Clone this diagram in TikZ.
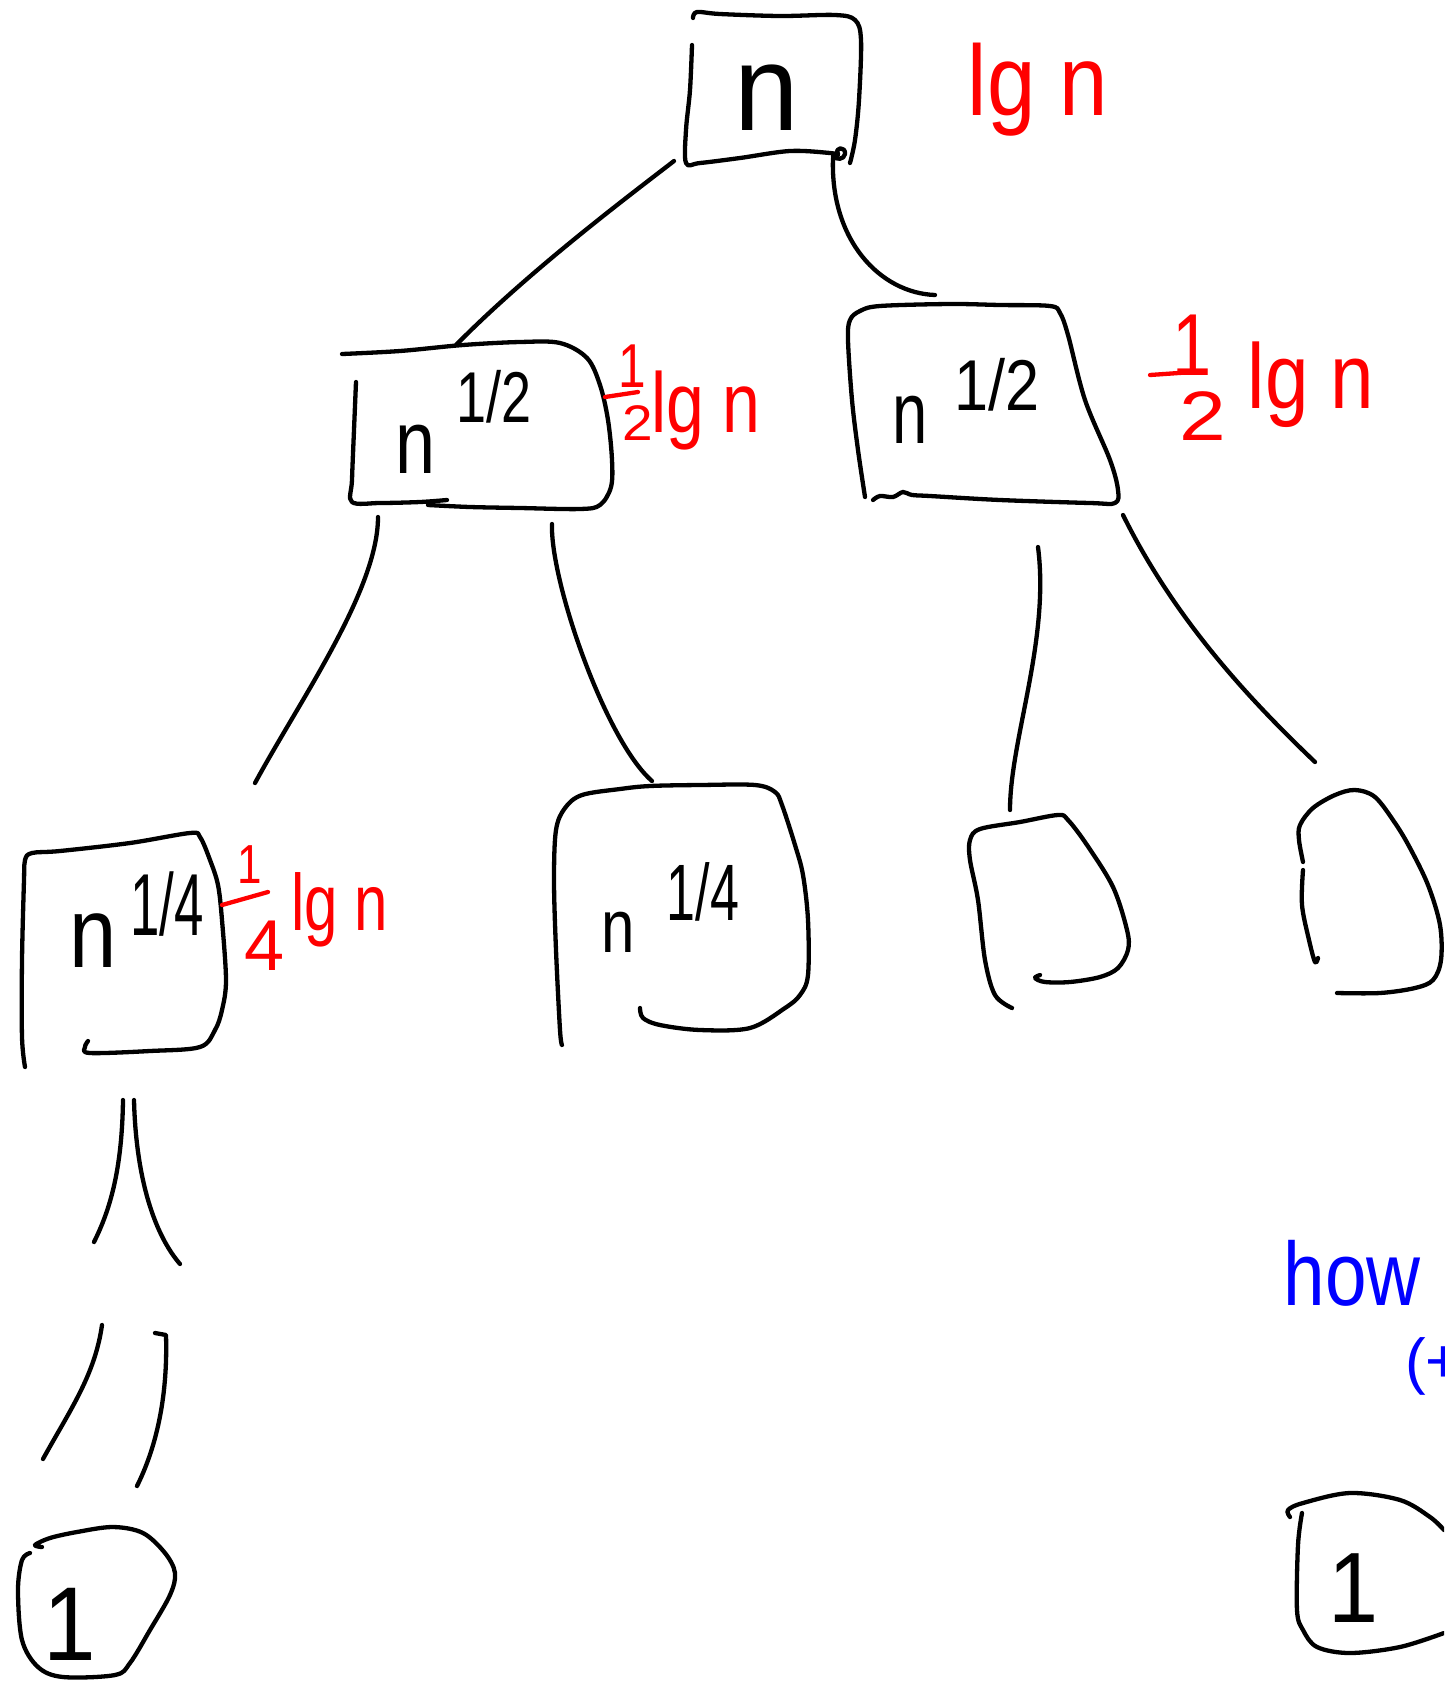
\documentclass[tikz,border=0pt]{standalone}
\usepackage{fontspec}
\setmainfont{Liberation Sans}
\definecolor{inkred}{RGB}{255,0,0}
\definecolor{inkblue}{RGB}{0,0,255}
% handwritten-style label: horizontal squeeze, font size, text
\newcommand\hand[3]{\scalebox{#1}[1]{\fontsize{#2pt}{#2pt}\selectfont #3}}
\begin{document}
\begin{tikzpicture}[x=1pt,y=-1pt,
  ink/.style={line width=4.3pt,line cap=round,line join=round},
  redink/.style={ink,draw=inkred},
  box/.style={ink,smooth,tension=0.55},
  lbl/.style={inner sep=0pt,anchor=base},
  redlbl/.style={lbl,text=inkred},
  bluelbl/.style={lbl,text=inkblue}]
\useasboundingbox (0,0) rectangle (1444,1682);
\fill[white] (0,0) rectangle (1444,1682);
\clip (0,0) rectangle (1444,1682);

% ---------- root: n ----------
\draw[box] plot coordinates {(693,18) (697,12) (720,14) (780,16) (835,15) (855,20) (861,40) (859,100) (855,140) (850,163)};
\draw[box] plot coordinates {(692,45) (690,90) (686,130) (686,163) (700,163) (740,158) (790,151) (830,153) (838,155)};
\draw[ink] (838,154) .. controls (834,147) and (846,146) .. (845,154) .. controls (844,160) and (836,160) .. (833,156);
\node[lbl] (nroot) at (767,130) {\hand{0.95}{122}{n}};
\node[redlbl] (lgroot) at (1038,115) {\hand{0.87}{100}{lg n}};

% ---------- left child: n^{1/2} ----------
\draw[box] plot coordinates {(342,354) (400,351) (463,345) (520,342) (560,343) (587,358) (600,385) (608,420) (612,460) (611,487) (600,505) (580,509) (520,508) (470,507) (428,505)};
\draw[box] plot coordinates {(356,382) (354,430) (352,480) (352,502) (380,503) (420,502) (447,500)};
\node[lbl] (nL) at (416,473) {\hand{0.8}{90}{n}};
\node[lbl] (supL) at (494,422) {\hand{0.75}{72}{1/2}};
\node[redlbl] (numL) at (632,387) {\hand{0.8}{62}{1}};
\draw[redink] (605,397) -- (638,392);
\node[redlbl] (denL) at (638,440) {\hand{1.1}{50}{2}};
\node[redlbl] (lgL) at (706,432) {\hand{0.8}{85}{lg n}};

% ---------- right child: n^{1/2} ----------
\draw[box] plot coordinates {(865,497) (858,450) (852,400) (848,340) (850,320) (860,311) (880,306) (950,304) (1000,305) (1050,306) (1060,313) (1068,335) (1085,400) (1110,460) (1118,490) (1115,503) (1090,503) (1000,500) (930,496) (912,495) (903,492) (893,497) (880,496) (873,500)};
\node[lbl] (nR) at (910,443) {\hand{0.72}{88}{n}};
\node[lbl] (supR) at (997,410) {\hand{0.85}{72}{1/2}};
\node[redlbl] (numR) at (1192,375) {\hand{0.8}{88}{1}};
\draw[redink] (1150,375) -- (1193,372);
\node[redlbl] (denR) at (1203,440) {\hand{1.2}{70}{2}};
\node[redlbl] (lgR) at (1311,408) {\hand{0.85}{92}{lg n}};

% ---------- third level ----------
% n^{1/4} (left)
\draw[box] plot coordinates {(25,1067) (22,1037) (22,960) (24,880) (25,860) (32,853) (60,851) (130,843) (190,833) (200,837) (210,860) (218,885) (222,920) (226,980) (222,1010) (215,1030) (200,1047) (150,1051) (90,1053) (85,1047) (88,1041)};
\node[lbl] (nA) at (93,967) {\hand{0.85}{100}{n}};
\node[lbl] (supA) at (167,935) {\hand{0.6}{88}{1/4}};
\node[redlbl] (numA) at (250,883) {\hand{0.8}{55}{1}};
\draw[redink] (222,905) -- (268,892);
\node[redlbl] (denA) at (265,970) {\hand{1}{72}{4}};
\node[redlbl] (lgA) at (340,930) {\hand{0.75}{80}{lg n}};
% n^{1/4} (right)
\draw[box] plot coordinates {(562,1045) (560,1030) (556,950) (554,880) (556,830) (565,808) (582,795) (620,789) (650,786) (700,785) (755,785) (775,792) (782,805) (795,845) (803,875) (808,920) (808,975) (800,995) (785,1008) (750,1028) (700,1030) (660,1025) (643,1018) (640,1008)};
\node[lbl] (nB) at (618,952) {\hand{0.8}{75}{n}};
\node[lbl] (supB) at (703,920) {\hand{0.65}{80}{1/4}};
% empty boxes
\draw[box] plot coordinates {(1012,1008) (995,995) (985,960) (978,900) (970,860) (970,840) (980,829) (1020,822) (1058,815) (1068,820) (1087,845) (1113,887) (1127,930) (1128,950) (1118,968) (1100,977) (1070,982) (1045,982) (1035,978) (1040,975)};
\draw[box] plot coordinates {(1303,862) (1299,840) (1300,825) (1313,808) (1335,795) (1355,790) (1375,797) (1395,823) (1410,848) (1428,885) (1440,925) (1441,960) (1433,980) (1415,988) (1380,993) (1337,993)};
\draw[box] plot coordinates {(1303,870) (1302,905) (1309,940) (1315,962) (1318,958)};

% ---------- leaves ----------
\draw[box] plot coordinates {(42,1547) (35,1545) (50,1538) (77,1532) (113,1527) (143,1533) (165,1553) (175,1573) (170,1595) (150,1630) (130,1663) (115,1675) (63,1677) (38,1667) (22,1640) (18,1590) (22,1560) (30,1553)};
\node[lbl] (oneL) at (70,1660) {\hand{0.9}{105}{1}};
\draw[box] plot coordinates {(1290,1517) (1288,1510) (1303,1503) (1350,1493) (1400,1500) (1430,1517) (1444,1530)};
\draw[box] plot coordinates {(1302,1513) (1298,1545) (1297,1610) (1303,1630) (1317,1647) (1350,1653) (1400,1647) (1444,1633)};
\node[lbl] (oneR) at (1354,1622) {\hand{0.9}{100}{1}};

% ---------- note ----------
\node[bluelbl] (how) at (1352,1305) {\hand{0.83}{90}{how}};
\node[bluelbl,anchor=base west] (paren) at (1405,1382) {\hand{1}{62}{(+}};

% ---------- tree edges ----------
\coordinate (rootL) at (674,161);   \coordinate (halfLtop) at (456,345);
\coordinate (rootR) at (833,158);   \coordinate (halfRtop) at (935,295);
\draw[ink] (rootL) .. controls (630,195) and (530,270) .. (halfLtop);
\draw[ink] (rootR) .. controls (830,240) and (880,293) .. (halfRtop);

\coordinate (hLa) at (378,517);  \coordinate (qA) at (255,783);
\coordinate (hLb) at (552,524);  \coordinate (qB) at (652,781);
\coordinate (hRa) at (1038,547); \coordinate (qC) at (1010,810);
\coordinate (hRb) at (1123,515); \coordinate (qD) at (1315,762);
\draw[ink] (hLa) .. controls (378,590) and (300,700) .. (qA);
\draw[ink] (hLb) .. controls (550,580) and (605,740) .. (qB);
\draw[ink] (hRa) .. controls (1050,640) and (1010,740) .. (qC);
\draw[ink] (hRb) .. controls (1175,620) and (1250,700) .. (qD);

\coordinate (dA1) at (123,1100); \coordinate (eA1) at (94,1242);
\coordinate (dA2) at (134,1100); \coordinate (eA2) at (180,1264);
\coordinate (dA3) at (102,1325); \coordinate (eA3) at (43,1459);
\coordinate (dA4) at (155,1333); \coordinate (eA4) at (137,1486);
\draw[ink] (dA1) .. controls (122,1170) and (110,1210) .. (eA1);
\draw[ink] (dA2) .. controls (136,1180) and (155,1235) .. (eA2);
\draw[ink] (dA3) .. controls (95,1375) and (70,1410) .. (eA3);
\draw[ink] (dA4) -- ++(11,2) .. controls (168,1400) and (155,1450) .. (eA4);
\end{tikzpicture}
\end{document}
